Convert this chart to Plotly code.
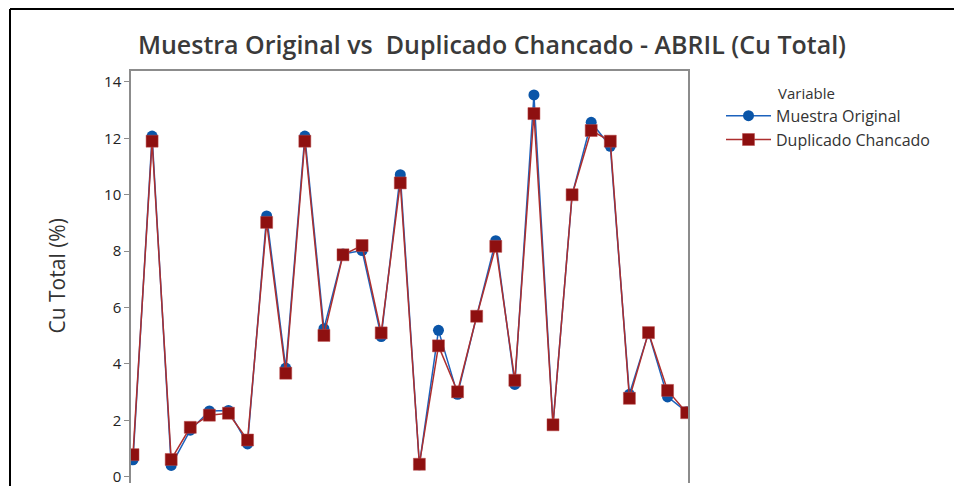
import plotly.graph_objects as go

# datos (observaciones 1..30)
obs = list(range(1, 31))
muestra_original = [0.60, 12.08, 0.40, 1.65, 2.33, 2.35, 1.16, 9.25, 3.85, 12.08,
                    5.25, 7.90, 8.02, 4.97, 10.71, 0.42, 5.19, 2.92, 5.70, 8.37,
                    3.27, 13.54, 1.85, 10.00, 12.57, 11.72, 2.92, 5.10, 2.83, 2.30]
duplicado_chancado = [0.78, 11.90, 0.61, 1.75, 2.18, 2.25, 1.30, 9.02, 3.67, 11.90,
                      5.01, 7.87, 8.20, 5.10, 10.42, 0.44, 4.64, 3.01, 5.69, 8.17,
                      3.42, 12.88, 1.84, 10.00, 12.28, 11.90, 2.78, 5.11, 3.06, 2.27]
y_ticks = [0, 2, 4, 6, 8, 10, 12, 14]

FONT = "Open Sans"
TXT = "#333333"

# la pagina tiene 8px de margen en el body -> se descuenta
OFF = 8
W, H = 962 - OFF, 486 - OFF
# bordes del area de trazado (en pixeles de la ventana)
L, R, T, B = 131, 688, 71, 486
pw, ph = R - L, B - T


def px_x(x):
    return (x - L) / pw


def px_y(y):
    return (B - y) / ph


fig = go.Figure()

fig.add_trace(go.Scatter(x=obs, y=muestra_original, mode='lines+markers',
                         name='Muestra Original',
                         line=dict(color='#1c62bd', width=1.5),
                         marker=dict(symbol='circle', size=11, color='#0a55a8')))

fig.add_trace(go.Scatter(x=obs, y=duplicado_chancado, mode='lines+markers',
                         name='Duplicado Chancado',
                         line=dict(color='#ad2e2e', width=1.5),
                         marker=dict(symbol='square', size=12, color='#8e1010',
                                     line=dict(color='#b84848', width=0.5))))

# marco de la captura (negro, arriba e izquierda)
fig.add_shape(type='line', xref='paper', yref='paper',
              x0=px_x(10), x1=px_x(970), y0=px_y(8.5), y1=px_y(8.5),
              line=dict(color='black', width=2))
fig.add_shape(type='line', xref='paper', yref='paper',
              x0=px_x(10), x1=px_x(10), y0=px_y(8.5), y1=px_y(495),
              line=dict(color='black', width=2))

# titulo del eje y
fig.add_annotation(text='Cu Total (%)', xref='paper', yref='paper',
                   x=px_x(57), y=px_y(278), textangle=-90, showarrow=False,
                   xanchor='center', yanchor='middle',
                   font=dict(family=FONT, size=21, color=TXT))

# titulo de la leyenda
fig.add_annotation(text='Variable', xref='paper', yref='paper',
                   x=px_x(776), y=px_y(93), xanchor='left', yanchor='middle',
                   showarrow=False, font=dict(family=FONT, size=15, color=TXT))

fig.update_layout(
    width=W, height=H,
    margin=dict(l=L - OFF, r=W - (R - OFF), t=T - OFF, b=0),
    paper_bgcolor='white', plot_bgcolor='white',
    title=dict(text='Muestra Original vs  Duplicado Chancado - ABRIL (Cu Total)',
               x=px_x(492), xref='paper', y=1 - (45 - OFF) / H, yanchor='middle',
               xanchor='center',
               font=dict(family=FONT, size=25, color='#3a3a3a', weight=600)),
    font=dict(family=FONT, color=TXT),
    showlegend=True,
    legend=dict(x=px_x(721), y=px_y(99), xanchor='left', yanchor='top',
                font=dict(family=FONT, size=16, color=TXT),
                tracegroupgap=0, itemwidth=45, bgcolor='rgba(0,0,0,0)'),
)

fig.update_xaxes(range=[0.895, 30.07], side='top', showline=True,
                 linecolor='#8c8c8c', linewidth=1.5, showgrid=False,
                 zeroline=False, showticklabels=False, ticks='')

fig.update_yaxes(range=[-0.225, 14.39], tickvals=y_ticks, showline=True,
                 mirror=True, linecolor='#8c8c8c', linewidth=1.5,
                 showgrid=False, zeroline=False, ticks='outside', ticklen=5,
                 tickcolor='#8c8c8c', ticklabeloverflow='allow',
                 tickfont=dict(family=FONT, size=15, color='#222222'))

fig.write_html("out.html")
